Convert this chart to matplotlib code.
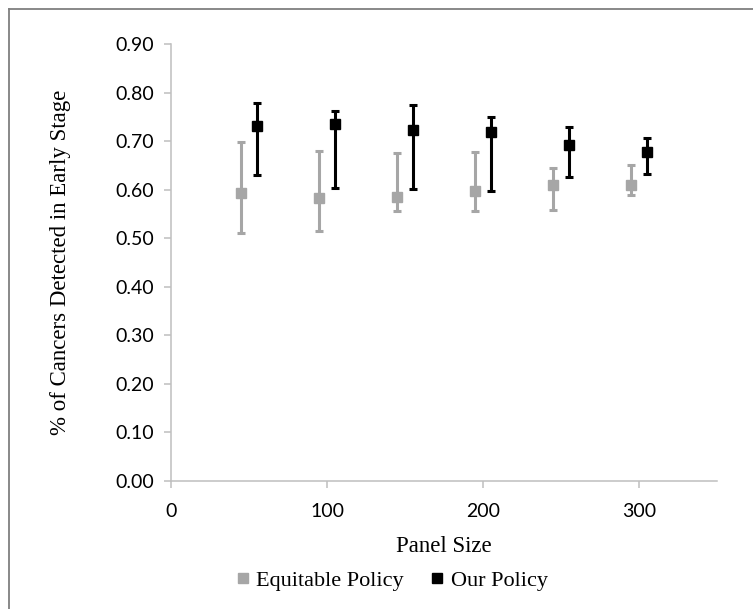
import matplotlib.pyplot as plt
from matplotlib.lines import Line2D

# --- dados ---
panel_size = [50, 100, 150, 200, 250, 300]
offset = 5  # deslocamento lateral de cada serie

equit_mean = [0.594, 0.583, 0.584, 0.598, 0.610, 0.610]
equit_low = [0.511, 0.515, 0.557, 0.557, 0.558, 0.588]
equit_high = [0.699, 0.680, 0.675, 0.677, 0.645, 0.650]

our_mean = [0.732, 0.735, 0.723, 0.719, 0.691, 0.677]
our_low = [0.630, 0.604, 0.601, 0.597, 0.626, 0.632]
our_high = [0.778, 0.761, 0.774, 0.750, 0.730, 0.707]

y_ticks = [0.0, 0.1, 0.2, 0.3, 0.4, 0.5, 0.6, 0.7, 0.8, 0.9]
x_ticks = [0, 100, 200, 300]

gray = "#a6a6a6"
axis_gray = "#bfbfbf"
serif = "Liberation Serif"
sans = "Lato"

fig = plt.figure(figsize=(7.53, 6.09), dpi=100)
ax = fig.add_axes([171 / 753, 128 / 609, 546 / 753, 437 / 609])

# --- series com barras de erro ---
x_eq = [p - offset for p in panel_size]
x_our = [p + offset for p in panel_size]

ax.errorbar(x_eq, equit_mean,
            yerr=[[m - lo for m, lo in zip(equit_mean, equit_low)],
                  [hi - m for m, hi in zip(equit_mean, equit_high)]],
            fmt="s", color=gray, ecolor=gray, markersize=7, elinewidth=2.2,
            capsize=3, capthick=2.2, linestyle="none", zorder=3)
ax.errorbar(x_our, our_mean,
            yerr=[[m - lo for m, lo in zip(our_mean, our_low)],
                  [hi - m for m, hi in zip(our_mean, our_high)]],
            fmt="s", color="black", ecolor="black", markersize=7.5, elinewidth=2.2,
            capsize=3, capthick=2.2, linestyle="none", zorder=4)

# --- eixos ---
ax.set_xlim(0, 350)
ax.set_ylim(0, 0.9)
ax.set_xticks(x_ticks)
ax.set_yticks(y_ticks)
ax.set_yticklabels([f"{v:.2f}" for v in y_ticks])
for s in ["top", "right"]:
    ax.spines[s].set_visible(False)
for s in ["left", "bottom"]:
    ax.spines[s].set_color(axis_gray)
    ax.spines[s].set_linewidth(1.1)
ax.tick_params(axis="both", colors=axis_gray, length=5, width=1.1,
               labelcolor="black", labelsize=14)
ax.tick_params(axis="y", pad=7)
ax.tick_params(axis="x", pad=11)
for lab in ax.get_xticklabels() + ax.get_yticklabels():
    lab.set_family(sans)

ax.set_ylabel("% of Cancers Detected in Early Stage", family=serif, fontsize=16.5)
ax.yaxis.set_label_coords(-(171 - 71) / 546, 0.5)
fig.text(444 / 753, 1 - 547 / 609, "Panel Size", family=serif, fontsize=16.5,
         ha="center", va="center")

# --- legenda ---
handles = [
    Line2D([], [], marker="s", color=gray, linestyle="none", markersize=7),
    Line2D([], [], marker="s", color="black", linestyle="none", markersize=7),
]
fig.legend(handles, ["Equitable Policy", "Our Policy"], loc="center",
           bbox_to_anchor=(392 / 753, 1 - 581 / 609), ncol=2, frameon=False,
           prop={"family": serif, "size": 16}, handlelength=0.6,
           handletextpad=0.3, columnspacing=1.2)

# --- moldura do grafico (bordas superior e esquerda) ---
fig.add_artist(Line2D([9 / 753, 9 / 753], [0, 1 - 9 / 609], transform=fig.transFigure,
                      color="#7f7f7f", linewidth=1.3))
fig.add_artist(Line2D([9 / 753, 1], [1 - 9 / 609, 1 - 9 / 609], transform=fig.transFigure,
                      color="#7f7f7f", linewidth=1.3))

fig.savefig("out.png", dpi=100)
